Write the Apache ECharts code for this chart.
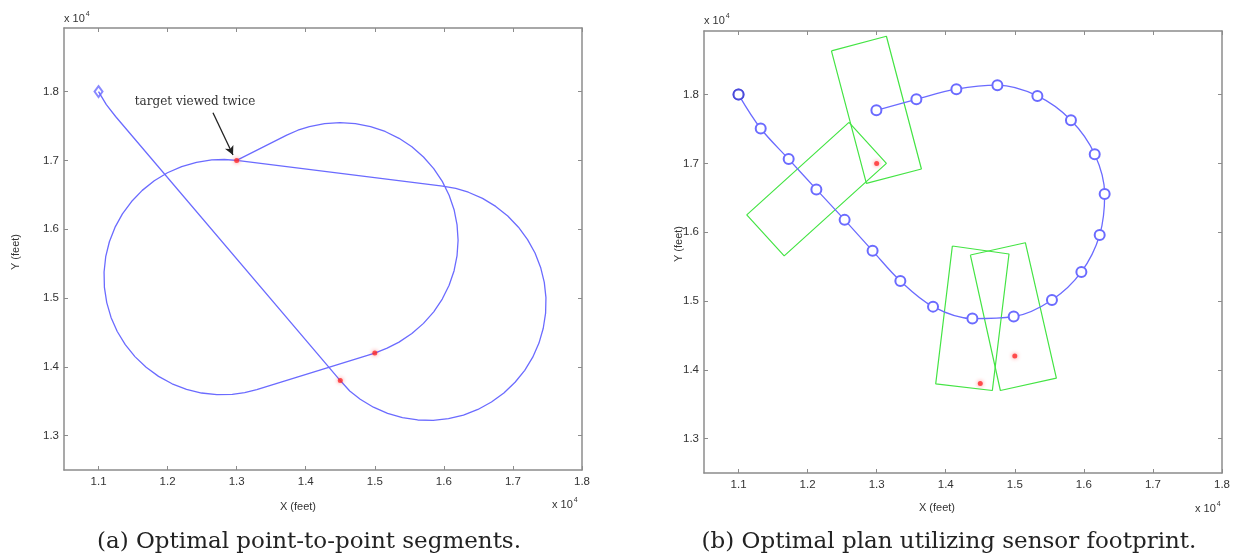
<!DOCTYPE html>
<html>
<head>
<meta charset="utf-8">
<script src="https://cdn.jsdelivr.net/npm/echarts@6/dist/echarts.min.js"></script>
<style>
  html, body { margin: 0; padding: 0; background: #fff; }
  #chart { width: 1243px; height: 559px; }
</style>
</head>
<body>
<div id="chart"></div>
<script>
// units of 10^4 feet
const xTicks = [1.1, 1.2, 1.3, 1.4, 1.5, 1.6, 1.7, 1.8];
const yTicks = [1.3, 1.4, 1.5, 1.6, 1.7, 1.8];

const targets = [[1.3, 1.7], [1.45, 1.38], [1.5, 1.42]];

// (a) point-to-point segments
const legStart = [[1.1, 1.8], [1.1113, 1.781], [1.1247, 1.7638]];
const loopRight = [[1.45, 1.38], [1.4637, 1.3649], [1.4789, 1.3529], [1.498, 1.3413], [1.5185, 1.3323],
  [1.54, 1.3261], [1.5621, 1.3227], [1.5845, 1.3222], [1.6067, 1.3246], [1.6284, 1.3299],
  [1.6493, 1.338], [1.6689, 1.3488], [1.6869, 1.362], [1.7031, 1.3775], [1.7171, 1.3949],
  [1.7287, 1.414], [1.7377, 1.4345], [1.7439, 1.456], [1.7473, 1.4781], [1.7478, 1.5005],
  [1.7454, 1.5227], [1.7401, 1.5444], [1.732, 1.5653], [1.7212, 1.5849], [1.708, 1.6029],
  [1.6925, 1.6191], [1.6751, 1.6331], [1.656, 1.6447], [1.6355, 1.6537], [1.6172, 1.6592], [1.5982, 1.6627]];
const loopLeft = [[1.3, 1.7], [1.2821, 1.7013], [1.2639, 1.7006], [1.2418, 1.6972], [1.2203, 1.691],
  [1.1998, 1.682], [1.1807, 1.6704], [1.1633, 1.6564], [1.1478, 1.6402], [1.1346, 1.6222],
  [1.1238, 1.6026], [1.1157, 1.5817], [1.1104, 1.56], [1.108, 1.5378], [1.1085, 1.5154],
  [1.1119, 1.4933], [1.1181, 1.4718], [1.1271, 1.4513], [1.1387, 1.4322], [1.1527, 1.4148],
  [1.1689, 1.3993], [1.1869, 1.3861], [1.2065, 1.3753], [1.2274, 1.3672], [1.2491, 1.3619],
  [1.2713, 1.3595], [1.2937, 1.36], [1.3116, 1.3625], [1.3291, 1.3669]];
const loopTop = [[1.5, 1.42], [1.5179, 1.4272], [1.5351, 1.4359], [1.5537, 1.4483], [1.5705, 1.4631],
  [1.5853, 1.4799], [1.5977, 1.4985], [1.6076, 1.5186], [1.6148, 1.5397], [1.6191, 1.5617],
  [1.6206, 1.584], [1.6191, 1.6063], [1.6148, 1.6283], [1.6076, 1.6494], [1.5977, 1.6695],
  [1.5853, 1.6881], [1.5705, 1.7049], [1.5537, 1.7197], [1.5351, 1.7321], [1.515, 1.742],
  [1.4939, 1.7492], [1.4719, 1.7535], [1.4496, 1.755], [1.4273, 1.7535], [1.4053, 1.7492],
  [1.3886, 1.7438], [1.3725, 1.7366], [1.3, 1.7]];
const pathA = legStart.concat(loopRight, loopLeft, loopTop);

const arrowFrom = [1.2657, 1.7693];
const arrowTo = [1.2947, 1.7078];
const noteAt = [1.2397, 1.7853];
const noteText = 'target viewed twice';

// (b) plan with sensor footprint
const pathB = [[1.1, 1.8], [1.1321, 1.7507], [1.1726, 1.7062], [1.2127, 1.6622], [1.2536, 1.6179],
  [1.2941, 1.5729], [1.3343, 1.5291], [1.3816, 1.4918], [1.4386, 1.4744], [1.4984, 1.4773],
  [1.5538, 1.5015], [1.5964, 1.5423], [1.6229, 1.5959], [1.6301, 1.6554], [1.6157, 1.7134],
  [1.5813, 1.7628], [1.5327, 1.798], [1.4748, 1.8136], [1.4154, 1.8078], [1.3575, 1.7932], [1.2996, 1.7772]];
const footA = [[1.2345, 1.8634], [1.3141, 1.8848], [1.3648, 1.6918], [1.2851, 1.671]];
const footB = [[1.2599, 1.7596], [1.3141, 1.70], [1.1661, 1.5655], [1.1119, 1.6251]];
const footC = [[1.4096, 1.5799], [1.4916, 1.5683], [1.4675, 1.3699], [1.3855, 1.3796]];
const footD = [[1.4357, 1.5668], [1.5153, 1.5847], [1.5602, 1.3879], [1.4791, 1.3699]];

const captions = ['(a) Optimal point-to-point segments.', '(b) Optimal plan utilizing sensor footprint.'];

const BLUE = '#6b6bff';
const GREEN = '#44e444';
const RED = '#ff2a2a';
const AXIS = '#8c8c8c';
const SANS = 'Liberation Sans, Arial, sans-serif';
const SERIF = 'DejaVu Serif, serif';

const grids = [
  { left: 64, top: 28, width: 518, height: 442 },
  { left: 704, top: 31, width: 518, height: 442 }
];

function xAx(gi, pos) {
  return {
    gridIndex: gi, type: 'value', min: 1.05, max: 1.8, position: pos,
    axisLine: { show: true, onZero: false, lineStyle: { color: AXIS, width: 1.5 } },
    axisTick: { show: true, inside: true, length: 4, customValues: xTicks, lineStyle: { color: AXIS } },
    axisLabel: {
      show: pos === 'bottom', customValues: xTicks, formatter: v => v.toFixed(1),
      color: '#333', fontSize: 11.5, fontFamily: SANS, margin: 6
    },
    splitLine: { show: false }
  };
}
function yAx(gi, pos) {
  return {
    gridIndex: gi, type: 'value', min: 1.25, max: 1.8924, position: pos,
    axisLine: { show: true, onZero: false, lineStyle: { color: AXIS, width: 1.5 } },
    axisTick: { show: true, inside: true, length: 4, customValues: yTicks, lineStyle: { color: AXIS } },
    axisLabel: {
      show: pos === 'left', customValues: yTicks, formatter: v => v.toFixed(1),
      color: '#333', fontSize: 11.5, fontFamily: SANS, margin: 5
    },
    splitLine: { show: false }
  };
}

const xAxes = [xAx(0, 'bottom'), xAx(0, 'top'), xAx(1, 'bottom'), xAx(1, 'top')];
const yAxes = [yAx(0, 'left'), yAx(0, 'right'), yAx(1, 'left'), yAx(1, 'right')];

function footprint(pts) {
  return {
    type: 'line', xAxisIndex: 2, yAxisIndex: 2, data: pts.concat([pts[0]]),
    showSymbol: false, lineStyle: { color: GREEN, width: 1.2 }, silent: true, z: 2
  };
}

const series = [
  {
    type: 'line', xAxisIndex: 0, yAxisIndex: 0, data: pathA, showSymbol: false,
    lineStyle: { color: BLUE, width: 1.3, join: 'round' }, silent: true,
    markLine: {
      silent: true, symbol: ['none', 'arrow'], symbolSize: [7, 9],
      lineStyle: { color: '#222', width: 1.3, type: 'solid' }, label: { show: false },
      data: [[{ coord: arrowFrom }, { coord: arrowTo }]]
    },
    markPoint: {
      silent: true, symbol: 'circle', symbolSize: 0,
      label: { show: true, position: 'inside', formatter: noteText, color: '#333', fontSize: 12, fontFamily: SERIF },
      data: [{ coord: noteAt }]
    }
  },
  {
    type: 'scatter', xAxisIndex: 0, yAxisIndex: 0, data: [pathA[0]],
    symbol: 'emptyDiamond', symbolSize: [8, 11], itemStyle: { color: BLUE, borderWidth: 1.2 }
  },
  {
    type: 'scatter', xAxisIndex: 0, yAxisIndex: 0, data: targets, symbol: 'circle', symbolSize: 5,
    itemStyle: { color: RED, shadowBlur: 4, shadowColor: 'rgba(255,0,0,0.6)' }, z: 5
  },
  footprint(footA), footprint(footB), footprint(footC), footprint(footD),
  {
    type: 'line', xAxisIndex: 2, yAxisIndex: 2, data: pathB, smooth: 0.35,
    symbol: 'emptyCircle', symbolSize: 10, showSymbol: true,
    itemStyle: { color: BLUE, borderWidth: 1.2 },
    lineStyle: { color: BLUE, width: 1.3 }, z: 3
  },
  {
    type: 'scatter', xAxisIndex: 2, yAxisIndex: 2, data: [pathB[0]],
    symbol: 'emptyCircle', symbolSize: 10, itemStyle: { color: '#3a3ad0', borderWidth: 2 }, z: 4
  },
  {
    type: 'scatter', xAxisIndex: 2, yAxisIndex: 2, data: targets, symbol: 'circle', symbolSize: 5,
    itemStyle: { color: RED, shadowBlur: 4, shadowColor: 'rgba(255,0,0,0.6)' }, z: 5
  }
];

function expText(x, y) {
  return {
    type: 'text', x: x, y: y, silent: true,
    style: {
      text: '{a|x 10}{s|4}', verticalAlign: 'bottom',
      rich: {
        a: { fontSize: 11, fontFamily: SANS, fill: '#333', verticalAlign: 'bottom' },
        s: { fontSize: 7, fontFamily: SANS, fill: '#333', verticalAlign: 'top', padding: [0, 0, 6, 1] }
      }
    }
  };
}
function axisName(text, x, y, rot) {
  return {
    type: 'text', x: x, y: y, rotation: rot, silent: true,
    style: { text: text, fill: '#333', fontSize: 11, fontFamily: SANS, align: 'center', verticalAlign: 'middle' }
  };
}
function caption(text, x) {
  return {
    type: 'text', x: x, y: 542, silent: true,
    style: { text: text, fill: '#222', fontSize: 23, fontFamily: SERIF, align: 'center', verticalAlign: 'middle' }
  };
}

const graphic = [
  expText(64, 24), expText(704, 26),
  expText(552, 510), expText(1195, 514),
  axisName('X (feet)', 298, 507, 0), axisName('X (feet)', 937, 508, 0),
  axisName('Y (feet)', 16, 252, Math.PI / 2), axisName('Y (feet)', 679, 244, Math.PI / 2),
  caption(captions[0], 309), caption(captions[1], 949)
];

const chart = echarts.init(document.getElementById('chart'), null, { renderer: 'canvas' });
chart.setOption({
  animation: false,
  backgroundColor: '#ffffff',
  grid: grids,
  xAxis: xAxes,
  yAxis: yAxes,
  series: series,
  graphic: graphic
});
</script>
</body>
</html>
